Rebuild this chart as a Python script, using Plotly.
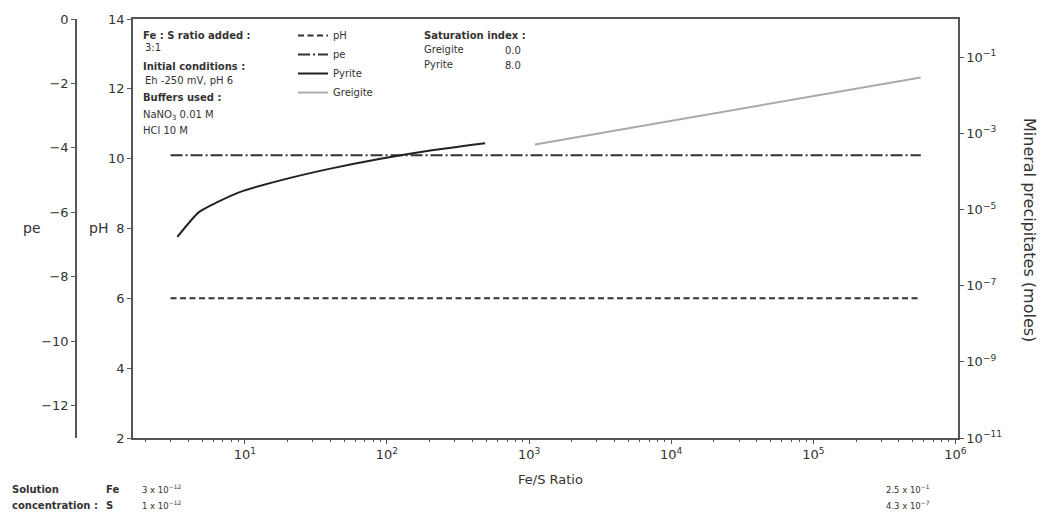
import plotly.graph_objects as go

W, H = 1043, 512

# ---------------- data ----------------
line_x = [3, 570000]
ph_values = [6, 6]
pe_values = [-4.23, -4.23]

pyrite_x = [3.35, 4.75, 6.4, 9.3, 17.8, 40, 90, 202, 491]
pyrite_y = [1.9e-6, 8.5e-6, 1.55e-5, 2.9e-5, 5.8e-5, 1.18e-4, 2.15e-4, 3.55e-4, 5.5e-4]

greigite_x = [1100, 1.0e4, 1.0e5, 5.7e5]
greigite_y = [5.1e-4, 2.15e-3, 9.5e-3, 2.9e-2]

x_major = [10, 100, 1000, 1e4, 1e5, 1e6]
x_major_text = ["10<sup>1</sup>", "10<sup>2</sup>", "10<sup>3</sup>",
                "10<sup>4</sup>", "10<sup>5</sup>", "10<sup>6</sup>"]
ph_ticks = [2, 4, 6, 8, 10, 12, 14]
pe_ticks = [0, -2, -4, -6, -8, -10, -12]
pe_tick_text = ["0", "\u22122", "\u22124", "\u22126", "\u22128", "\u221210", "\u221212"]
mp_ticks = [1e-11, 1e-9, 1e-7, 1e-5, 1e-3, 1e-1]
mp_tick_text = ["10<sup>\u221211</sup>", "10<sup>\u22129</sup>", "10<sup>\u22127</sup>",
                "10<sup>\u22125</sup>", "10<sup>\u22123</sup>", "10<sup>\u22121</sup>"]

# ---------------- layout helpers ----------------
def px(x):
    return x / W

def py(y):
    return 1 - y / H

FONT = "DejaVu Sans"
TXT = "#333333"
AX = "#555555"

x0, x1 = 133, 958
y_top, y_bot = 19, 438

fig = go.Figure()

fig.add_trace(go.Scatter(x=line_x, y=ph_values, mode="lines", name="pH",
                         line=dict(color="#333333", width=2, dash="6px,3.5px"),
                         xaxis="x", yaxis="y"))
fig.add_trace(go.Scatter(x=line_x, y=pe_values, mode="lines", name="pe",
                         line=dict(color="#333333", width=2, dash="12px,3px,2px,3px"),
                         xaxis="x", yaxis="y2"))
fig.add_trace(go.Scatter(x=pyrite_x, y=pyrite_y, mode="lines", name="Pyrite",
                         line=dict(color="#222222", width=2, shape="spline", smoothing=0.6),
                         xaxis="x", yaxis="y3"))
fig.add_trace(go.Scatter(x=greigite_x, y=greigite_y, mode="lines", name="Greigite",
                         line=dict(color="#aaaaaa", width=2),
                         xaxis="x", yaxis="y3"))

minor_vals = []
for d in [1, 10, 100, 1000, 1e4, 1e5]:
    for m in range(2, 10):
        minor_vals.append(m * d)

axis_common = dict(showgrid=False, zeroline=False, showline=True, linecolor=AX, linewidth=1.5,
                   ticks="outside", ticklen=4, tickwidth=1, tickcolor=AX, automargin=False,
                   tickfont=dict(family=FONT, size=13, color=TXT))

fig.update_layout(
    width=W, height=H,
    margin=dict(l=0, r=0, t=0, b=0, autoexpand=False),
    paper_bgcolor="white", plot_bgcolor="white",
    font=dict(family=FONT, color=TXT),
    xaxis=dict(type="log", domain=[px(x0), px(x1)], range=[0.213, 6.018],
               tickmode="array", tickvals=x_major, ticktext=x_major_text,
               mirror=True, anchor="y",
               minor=dict(tickmode="array", tickvals=minor_vals, ticks="outside",
                          ticklen=2, tickcolor=AX),
               **axis_common),
    yaxis=dict(domain=[py(y_bot), py(y_top)], range=[2, 14], tickmode="array",
               tickvals=ph_ticks, mirror=True, anchor="x", **axis_common),
    yaxis2=dict(range=[-13, 0], tickmode="array", tickvals=pe_ticks, ticktext=pe_tick_text,
                overlaying="y", anchor="free", position=px(76), side="left",
                **axis_common),
    yaxis3=dict(type="log", range=[-11, 0], tickmode="array", tickvals=mp_ticks,
                ticktext=mp_tick_text, overlaying="y", anchor="x", side="right",
                **axis_common),
    legend=dict(x=px(293), y=py(21), xanchor="left", yanchor="top",
                bgcolor="rgba(0,0,0,0)", borderwidth=0,
                font=dict(family=FONT, size=10, color=TXT),
                itemwidth=30, tracegroupgap=0),
    showlegend=True,
)

ann = []

def text(x, y, s, size=10, bold=False, xanchor="left", angle=0):
    if bold:
        s = "<b>" + s + "</b>"
    ann.append(dict(x=px(x), y=py(y), xref="paper", yref="paper", text=s, showarrow=False,
                    xanchor=xanchor, yanchor="middle", textangle=angle,
                    font=dict(family=FONT, size=size, color=TXT)))

# axis titles
text(32, 228, "pe", size=14, xanchor="center")
text(98, 228, "pH", size=14, xanchor="center")
text(550, 479, "Fe/S Ratio", size=13, xanchor="center")
text(1030, 230, "Mineral precipitates (moles)", size=16, xanchor="center", angle=90)

# info box
text(141, 35, "Fe : S ratio added :", bold=True)
text(143, 47, "3:1")
text(141, 66, "Initial conditions :", bold=True)
text(143, 80, "Eh -250 mV, pH 6")
text(141, 97, "Buffers used :", bold=True)
text(141, 115, "NaNO<sub>3</sub> 0.01 M")
text(141, 130, "HCl 10 M")

text(422, 35, "Saturation index :", bold=True)
text(422, 49, "Greigite")
text(422, 64, "Pyrite")
text(503, 50, "0.0")
text(503, 65, "8.0")

# bottom
text(10, 489, "Solution", bold=True)
text(10, 505, "concentration :", bold=True)
text(104, 489, "Fe", bold=True)
text(104, 505, "S", bold=True)
text(140, 489, "3 x 10<sup>\u221212</sup>", size=8.5)
text(140, 505, "1 x 10<sup>\u221212</sup>", size=8.5)
text(884, 489, "2.5 x 10<sup>\u22121</sup>", size=8.5)
text(884, 505, "4.3 x 10<sup>\u22127</sup>", size=8.5)

fig.update_layout(annotations=ann)

fig.write_html("out.html")
